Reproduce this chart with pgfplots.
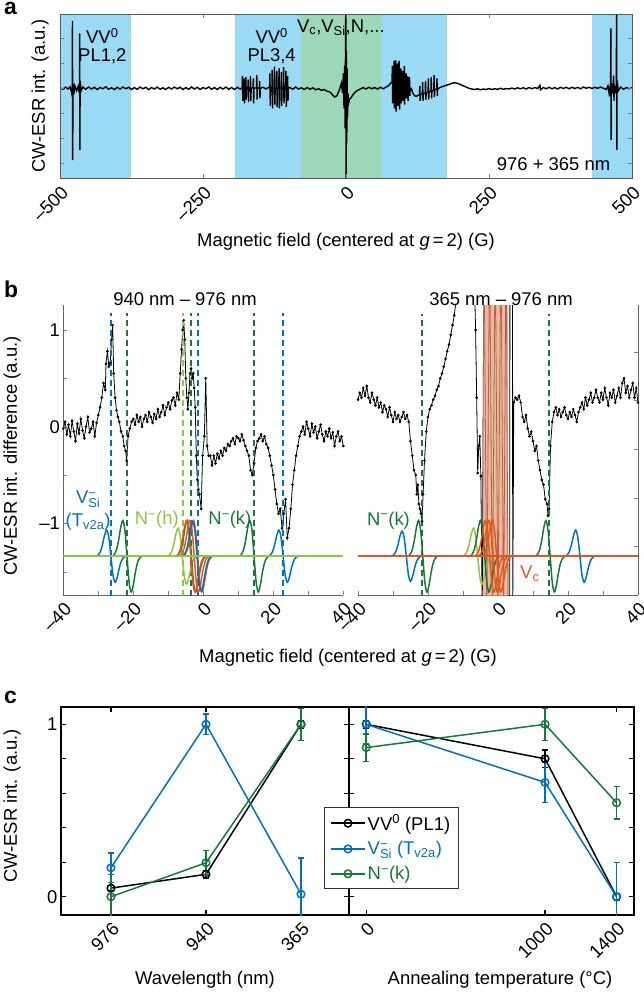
\documentclass[border=0pt]{standalone}
\usepackage{fontspec}
\setmainfont{Liberation Sans}
\setsansfont{Liberation Sans}
\usepackage{pgfplots}
\pgfplotsset{compat=1.18}
\usepackage{pgfplotstable}

\definecolor{mblue}{RGB}{0,114,189}
\definecolor{mgreen}{RGB}{22,120,60}
\definecolor{lgreen}{RGB}{141,198,63}
\definecolor{morange}{RGB}{226,86,28}
\definecolor{shblue}{RGB}{154,218,244}
\definecolor{shgreen}{RGB}{156,216,184}
\definecolor{shorange}{RGB}{238,150,112}

\newcommand{\fs}{\fontsize{18.5}{22}\selectfont}
\newcommand{\Vsi}{V\rlap{\textsuperscript{−}}\textsubscript{Si}}

% derivative-of-Gaussian line shape used for the simulated spectra (peak = 1)
\pgfplotstableread{
dx g
-4.2 0
-3.6 0.055
-3.0 0.181
-2.4 0.446
-1.8 0.803
-1.2 1
-0.6 0.727
0 0
0.6 -0.727
1.2 -1
1.8 -0.803
2.4 -0.446
3.0 -0.181
3.6 -0.055
4.2 0
}\lshape

\pgfplotsset{
  base/.style={scale only axis, anchor=south west, font=\fs,
    tick label style={font=\fs}, tick align=inside,
    major tick length=4bp, minor tick length=4bp,
    xticklabel style={xshift=5bp, yshift=-11bp, rotate=45, anchor=east, inner sep=0pt}},
  dline/.style={line width=2bp, dash pattern=on 6bp off 4bp},
  ls/.style={line width=1.5bp, smooth},
  cser/.style={line width=1.5bp, mark=o, mark size=3.8bp,
    error bars/.cd, y dir=both, y explicit,
    error bar style={line width=1.5bp},
    error mark options={rotate=90, mark size=3bp, line width=1.5bp}},
}

\begin{document}
\begin{tikzpicture}[x=1bp,y=1bp,font=\fs]
\path[use as bounding box] (0,0) rectangle (644,-993);

% ---------------- panel a ----------------
\begin{axis}[base, at={(60bp,-178.3bp)}, width=572bp, height=164.3bp,
  xmin=-500, xmax=500, ymin=-3.6, ymax=2.97,
  xtick={-500,-250,0,250,500}, xticklabels={–500,–250,0,250,500},
  ytick={-3,-2,-1,0,1,2}, yticklabels={}, tick pos=both,
  axis on top, axis line style={black!65, line width=1bp}]
\addplot[draw=none, fill=shblue] coordinates {(-500,-3.6)(-500,3)(-376,3)(-376,-3.6)} -- cycle;
\addplot[draw=none, fill=shblue] coordinates {(-194,-3.6)(-194,3)(-79,3)(-79,-3.6)} -- cycle;
\addplot[draw=none, fill=shgreen] coordinates {(-79,-3.6)(-79,3)(61,3)(61,-3.6)} -- cycle;
\addplot[draw=none, fill=shblue] coordinates {(61,-3.6)(61,3)(177,3)(177,-3.6)} -- cycle;
\addplot[draw=none, fill=shblue] coordinates {(430,-3.6)(430,3)(500,3)(500,-3.6)} -- cycle;
\addplot[black, line width=1.4bp] coordinates {
(-500,0.02)(-495,-0.04)(-490,0.05)(-486,-0.03)(-482,0.06)(-480,-0.15)
(-478.6,-0.3)(-478.2,2.7)(-477.8,-2.87)(-477.3,0.2)(-476,-0.25)(-474,0.1)(-471,-0.1)(-468,0.08)
(-466,-0.2)(-465.6,2.2)(-465.2,-2.47)(-464.8,0.3)(-463,-0.1)(-460,0.05)
(-455,-0.04)(-450,0.05)(-445,-0.03)(-440,0.04)(-435,-0.05)(-430,0.03)(-425,-0.02)(-420,0.06)
(-415,-0.04)(-410,0.02)(-405,-0.05)(-400,0.04)(-395,-0.03)(-390,0.05)(-385,-0.02)(-380,0.04)
(-375,-0.05)(-370,0.03)(-365,-0.04)(-360,0.05)(-355,-0.02)(-350,0.04)(-345,-0.05)(-340,0.03)
(-335,-0.03)(-330,0.05)(-325,-0.04)(-320,0.02)(-315,-0.05)(-310,0.04)(-305,-0.03)(-300,0.05)
(-295,-0.02)(-290,0.04)(-285,-0.05)(-280,0.03)(-275,-0.04)(-270,0.05)(-265,-0.03)(-260,0.04)
(-255,-0.05)(-250,0.03)(-245,-0.02)(-240,0.05)(-235,-0.04)(-230,0.03)(-225,-0.05)(-220,0.04)
(-215,-0.03)(-210,0.05)(-205,-0.04)(-200,0.03)(-195,-0.05)(-190,0.04)(-185,-0.03)
(-181.5,0.02)(-181,0.5)(-180.4,-0.5)(-179.8,-0.02)
(-178.5,0.02)(-178,0.4)(-177.4,-0.6)(-176.8,0.0)
(-175.5,0.02)(-175,0.45)(-174.4,-0.45)(-173.8,0.0)
(-171.5,0.02)(-171,0.35)(-170.4,-0.55)(-169.8,0.0)
(-167.5,0.02)(-167,0.5)(-166.4,-0.5)(-165.8,0.0)
(-162.5,0.02)(-162,0.4)(-161.4,-0.6)(-160.8,0.0)
(-156.5,0.02)(-156,0.53)(-155.4,-0.45)(-154.8,0.0)
(-151.5,0.02)(-151,0.3)(-150.4,-0.4)(-149.8,0.0)
(-145,0.04)(-140,-0.03)(-136,0.03)
(-133.5,0.02)(-133,0.6)(-132.4,-0.7)(-131.8,0.0)
(-129.5,0.02)(-129,0.75)(-128.4,-0.8)(-127.8,0.0)
(-125.5,0.02)(-125,0.87)(-124.4,-0.65)(-123.8,0.0)
(-121.5,0.02)(-121,0.7)(-120.4,-0.75)(-119.8,0.0)
(-117.5,0.02)(-117,0.8)(-116.4,-0.8)(-115.8,0.0)
(-113.5,0.02)(-113,0.65)(-112.4,-0.7)(-111.8,0.0)
(-109.5,0.02)(-109,0.85)(-108.4,-0.6)(-107.8,0.0)
(-105.5,0.02)(-105,0.7)(-104.4,-0.75)(-103.8,0.0)
(-102.5,0.02)(-102,0.5)(-101.4,-0.5)(-100.8,0.0)
(-98,0.03)(-93,-0.04)(-88,0.05)(-83,-0.03)(-78,0.02)(-73,-0.05)(-68,0.03)(-63,-0.04)(-58,0.02)
(-53,-0.06)(-48,-0.02)(-43,-0.08)(-38,-0.05)(-33,-0.12)(-28,-0.15)(-24,-0.25)(-20,-0.35)
(-16,-0.3)(-13,-0.15)(-10,0.05)(-8,0.2)(-6,-0.2)(-4.5,0.6)(-3.5,-0.8)(-2.5,0.9)(-1.5,-1.6)
(-0.8,2.0)(-0.3,3.5)(0.2,-3.8)(0.7,1.5)(1.3,-2.2)(1.9,0.8)(2.6,-1.2)(3.4,-0.2)(4.5,-0.6)
(6,-0.45)(8,-0.4)(11,-0.3)(14,-0.2)(18,-0.12)(22,-0.06)(26,-0.02)(30,0.03)(35,-0.03)(40,0.04)
(45,-0.02)(50,0.03)(55,-0.03)(60,0.04)(65,-0.02)(70,0.05)(74,0.1)(78,0.2)
(80.5,0.25)(81,0.9)(81.6,-0.6)(82.2,0.25)
(83.5,0.25)(84,1.1)(84.6,-0.8)(85.2,0.25)
(86.5,0.3)(87,1.13)(87.6,-0.93)(88.2,0.3)
(89.5,0.3)(90,1.0)(90.6,-0.7)(91.2,0.3)
(92.5,0.3)(93,1.1)(93.6,-0.85)(94.2,0.3)
(95.5,0.28)(96,0.8)(96.6,-0.6)(97.2,0.25)
(98.5,0.25)(99,0.7)(99.6,-0.5)(100.2,0.22)
(101.5,0.2)(102,0.9)(102.6,-0.65)(103.2,0.18)
(104.5,0.15)(105,0.6)(105.6,-0.4)(106.2,0.12)
(107.5,0.1)(108,0.5)(108.6,-0.5)(109.2,0.05)
(110.5,0.03)(111,0.45)(111.6,-0.3)(112.2,0.0)
(114,0.0)(117,-0.2)(120,-0.3)(123,-0.32)(126,-0.28)
(128.5,-0.27)(129,0.1)(129.6,-0.5)(130.2,-0.25)
(133.5,-0.23)(134,0.25)(134.6,-0.5)(135.2,-0.22)
(138.5,-0.2)(139,0.3)(139.6,-0.45)(140.2,-0.18)
(143.5,-0.16)(144,0.4)(144.6,-0.45)(145.2,-0.14)
(148.5,-0.12)(149,0.45)(149.6,-0.4)(150.2,-0.1)
(153.5,-0.08)(154,0.53)(154.6,-0.35)(155.2,-0.06)
(158.5,-0.05)(159,0.4)(159.6,-0.3)(160.2,-0.03)
(162,0.0)(166,0.05)(170,0.08)(175,0.12)(180,0.15)(185,0.2)(190,0.22)(195,0.2)(200,0.15)
(205,0.1)(210,0.05)(215,0.0)(220,-0.03)(225,-0.05)(230,-0.02)(235,-0.06)(240,-0.03)
(245,-0.05)(250,-0.01)(255,-0.05)(260,-0.02)(265,-0.04)(270,0.0)(275,-0.04)(280,-0.01)
(285,-0.03)(290,0.01)(295,-0.03)(300,0.02)(305,-0.02)(310,0.02)(315,-0.03)(320,0.03)
(325,-0.02)(330,0.03)(335,-0.01)(339,0.12)(340,-0.06)(345,0.03)(350,-0.02)(355,0.04)
(360,-0.02)(365,0.03)(370,-0.03)(375,0.04)(380,-0.01)(385,0.04)(390,-0.02)(395,0.04)
(400,-0.01)(405,0.04)(410,-0.02)(415,0.05)(420,0.0)(425,0.04)(430,-0.01)(435,0.04)
(440,0.0)(445,0.05)(450,0.0)(455,-0.05)(458,0.1)(460,-0.2)(462,0.1)
(462.6,-0.3)(463,2.4)(463.4,-2.07)(463.9,0.2)(466,-0.2)(468,0.5)(468.5,-0.5)(469,0.1)
(471,-0.1)(472.6,0.1)(473,3.2)(473.4,-2.47)(473.9,0.3)(476,-0.1)(480,0.05)(485,-0.04)
(490,0.03)(495,-0.02)(500,0.02)};
\node[anchor=base] at (axis cs:-426,1.8) {VV\textsuperscript{0}};
\node[anchor=base] at (axis cs:-426,1.08) {PL1,2};
\node[anchor=base] at (axis cs:-130,1.8) {VV\textsuperscript{0}};
\node[anchor=base] at (axis cs:-130,1.08) {PL3,4};
\node[anchor=base] at (axis cs:-9,2.25) {V\textsubscript{c},V\textsubscript{Si},N,...};
\node[anchor=base east] at (axis cs:468,-3.27) {976 + 365 nm};
\end{axis}
\node[anchor=base west, font=\fontsize{23}{27}\selectfont\bfseries] at (0.5,-14) {a};
\node[rotate=90] at (40,-96) {CW-ESR int. (a.u.)};
\node[anchor=base] at (346,-246.5) {Magnetic field (centered at \textit{g}\,=\,2) (G)};

% ---------------- panel b, left ----------------
\begin{axis}[base, at={(63.3bp,-595bp)}, width=280bp, height=290bp,
  xmin=-40, xmax=40, ymin=-1.741, ymax=1.258,
  axis x line*=bottom, axis y line*=left,
  axis line style={black!60, line width=1bp},
  xtick={-40,-20,0,20,40}, xticklabels={–40,–20,0,20,40}, minor xtick={-30,-10,10,30},
  ytick={-1,0,1}, yticklabels={–1,0,1}, minor ytick={-1.5,-0.5,0.5}]
\addplot[black, line width=0.8bp, mark=*, mark size=0.9bp] coordinates {
(-40,-0.02)(-39.5,0.05)(-39,-0.08)(-38.5,0.02)(-38,-0.1)(-37.5,0.06)(-37,-0.05)(-36.5,-0.15)
(-36,0.03)(-35.5,-0.07)(-35,0.08)(-34.5,-0.04)(-34,-0.12)(-33.5,0.0)(-33,0.1)(-32.5,-0.06)
(-32,-0.02)(-31.5,0.05)(-31,-0.1)(-30.5,0.04)(-30,0.12)(-29.5,0.2)(-29,0.3)(-28.5,0.45)
(-28,0.38)(-27.8,0.65)(-27.4,0.78)(-27,0.62)(-26.6,0.66)(-26.2,0.9)(-25.9,1.05)(-25.6,0.55)
(-25.2,0.3)(-24.8,0.17)(-24.4,0.1)(-24,0.05)(-23.5,-0.05)(-23,-0.1)(-22.6,-0.2)(-22.2,-0.25)
(-21.9,-0.35)(-21.5,-0.1)(-21,-0.02)(-20.5,0.05)(-20,0.08)(-19.5,0.02)(-19,0.12)(-18.5,0.05)
(-18,0.1)(-17.5,0.0)(-17,0.08)(-16.5,0.12)(-16,0.05)(-15.5,0.15)(-15,0.1)(-14.5,0.04)
(-14,0.13)(-13.5,0.08)(-13,0.18)(-12.5,0.1)(-12,0.15)(-11.5,0.22)(-11,0.12)(-10.5,0.2)
(-10,0.25)(-9.5,0.18)(-9,0.27)(-8.5,0.3)(-8,0.22)(-7.5,0.35)(-7,0.28)(-6.6,0.55)(-6.2,0.8)
(-5.9,1.0)(-5.6,1.1)(-5.3,0.9)(-5,0.5)(-4.7,0.3)(-4.4,0.18)(-4.1,0.35)(-3.8,0.55)(-3.5,0.6)
(-3.2,0.5)(-2.9,0.55)(-2.6,0.4)(-2.3,0.2)(-2.0,-0.3)(-1.7,-0.55)(-1.4,-0.65)(-1.1,-0.7)
(-0.6,-0.85)(-0.2,-0.3)(0.3,-0.1)(0.7,0.5)(1.1,-0.2)(1.5,-0.3)(2,-0.3)(2.5,-0.4)(3,-0.3)
(3.5,-0.38)(4,-0.28)(4.5,-0.33)(5,-0.25)(5.5,-0.3)(6,-0.22)(6.5,-0.25)(7,-0.18)(7.5,-0.2)
(8,-0.15)(8.5,-0.12)(9,-0.18)(9.5,-0.1)(10,-0.12)(10.5,-0.15)(11,-0.08)(11.5,-0.14)
(12,-0.2)(12.5,-0.25)(13,-0.3)(13.5,-0.45)(14,-0.5)(14.5,-0.38)(15,-0.22)(15.5,-0.15)
(16,-0.12)(16.5,-0.08)(17,-0.15)(17.5,-0.1)(18,-0.18)(18.5,-0.22)(19,-0.3)(19.5,-0.4)
(20,-0.5)(20.5,-0.65)(21,-0.8)(21.5,-0.9)(22,-0.85)(22.5,-1.05)(23,-0.9)(23.5,-0.75)
(24,-1.15)(24.5,-1.05)(25,-0.85)(25.5,-0.6)(26,-0.45)(26.5,-0.3)(27,-0.2)(27.5,-0.1)
(28,-0.05)(28.5,0.0)(29,-0.08)(29.5,0.05)(30,-0.02)(30.5,-0.1)(31,0.03)(31.5,-0.06)
(32,0.0)(32.5,-0.12)(33,-0.05)(33.5,0.02)(34,-0.08)(34.5,-0.15)(35,-0.05)(35.5,-0.1)
(36,-0.02)(36.5,-0.12)(37,-0.06)(37.5,-0.2)(38,-0.1)(38.5,-0.05)(39,-0.15)(39.5,-0.1)(40,-0.2)};
\addplot[mblue, dline] coordinates {(-26.4,-1.75)(-26.4,1.18)};
\addplot[mblue, dline] coordinates {(-1.4,-1.75)(-1.4,1.18)};
\addplot[mblue, dline] coordinates {(22.9,-1.75)(22.9,1.18)};
\addplot[mgreen, dline] coordinates {(-21.7,-1.75)(-21.7,1.18)};
\addplot[mgreen, dline] coordinates {(-3.4,-1.75)(-3.4,1.18)};
\addplot[mgreen, dline] coordinates {(14.6,-1.75)(14.6,1.18)};
\addplot[lgreen, dline] coordinates {(-5.9,-1.75)(-5.9,1.18)};
\addplot[mblue, ls] table[x expr=\thisrow{dx}-26.4, y expr=-1.34+0.27*\thisrow{g}] {\lshape};
\addplot[mgreen, ls] table[x expr=\thisrow{dx}-21.8, y expr=-1.34+0.37*\thisrow{g}] {\lshape};
\addplot[lgreen, ls] table[x expr=\thisrow{dx}-6.0, y expr=-1.34+0.29*\thisrow{g}] {\lshape};
\addplot[mgreen, ls] table[x expr=\thisrow{dx}-3.4, y expr=-1.34+0.37*\thisrow{g}] {\lshape};
\addplot[morange, ls] table[x expr=\thisrow{dx}-3.6, y expr=-1.34+0.37*\thisrow{g}] {\lshape};
\addplot[morange, ls] table[x expr=\thisrow{dx}-2.6, y expr=-1.34+0.37*\thisrow{g}] {\lshape};
\addplot[morange, ls] table[x expr=\thisrow{dx}-1.6, y expr=-1.34+0.37*\thisrow{g}] {\lshape};
\addplot[mblue, ls] table[x expr=\thisrow{dx}-1.8, y expr=-1.34+0.36*\thisrow{g}] {\lshape};
\addplot[mgreen, ls] table[x expr=\thisrow{dx}+14.5, y expr=-1.34+0.37*\thisrow{g}] {\lshape};
\addplot[mblue, ls] table[x expr=\thisrow{dx}+22.8, y expr=-1.34+0.27*\thisrow{g}] {\lshape};
\addplot[lgreen, line width=1.5bp] coordinates {(-40,-1.34)(40,-1.34)};
\node[mblue] at (axis cs:-32.9,-0.75) {\Vsi};
\node[mblue] at (axis cs:-32.9,-0.98) {(T\textsubscript{v2a})};
\node[lgreen] at (axis cs:-13.3,-0.96) {N\textsuperscript{−}(h)};
\node[mgreen] at (axis cs:7.6,-0.96) {N\textsuperscript{−}(k)};
\end{axis}

% ---------------- panel b, right ----------------
\begin{axis}[base, at={(358bp,-595bp)}, width=280bp, height=290bp,
  xmin=-40, xmax=40, ymin=-1.741, ymax=1.258,
  axis x line*=bottom, axis y line*=right,
  axis line style={black!60, line width=1bp},
  xtick={-40,-20,0,20,40}, xticklabels={–40,–20,0,20,40}, minor xtick={-30,-10,10,30},
  ytick={-1.24,-0.74,-0.23,0.27,0.77}, yticklabels={}]
\addplot[black, line width=0.8bp, mark=*, mark size=0.9bp] coordinates {
(-40,0.28)(-39.5,0.35)(-39,0.3)(-38.5,0.4)(-38,0.32)(-37.5,0.42)(-37,0.3)(-36.5,0.25)
(-36,0.35)(-35.5,0.28)(-35,0.22)(-34.5,0.3)(-34,0.2)(-33.5,0.25)(-33,0.15)(-32.5,0.22)
(-32,0.18)(-31.5,0.1)(-31,0.2)(-30.5,0.12)(-30,0.05)(-29.5,0.15)(-29,0.08)(-28.5,0.12)
(-28,0.05)(-27.5,0.1)(-27,0.15)(-26.5,0.08)(-26,0.12)(-25.5,0.05)(-25,-0.15)(-24.5,-0.3)
(-24,-0.45)(-23.5,-0.5)(-23.2,-0.7)(-22.9,-0.6)(-22.6,-0.8)(-22.3,-0.85)(-22,-0.9)
(-21.7,-0.98)(-21.4,-0.7)(-21,-0.35)(-20.5,-0.05)(-20,0.1)(-19.5,0.18)(-19,0.22)(-18.5,0.28)
(-18,0.32)(-17.5,0.38)(-17,0.42)(-16.5,0.5)(-16,0.55)(-15.5,0.62)(-15,0.7)(-14.5,0.78)
(-14,0.85)(-13.5,0.95)(-13,1.05)(-12.5,1.15)(-12,1.3)(-10,1.8)(-8,2.2)(-6.8,1.6)(-6.4,1.0)
(-6.1,0.3)(-5.8,-0.48)(-5.5,-0.2)(-5.2,-0.1)(-4.9,-0.51)(-4.5,-1.9)(-4.0,2)(-3.2,-2)
(-2.4,2)(-1.6,-2)(-0.8,2)(0.0,-2)(0.8,2)(1.6,-2)(2.3,2)(2.9,-2)(3.35,-2)(3.4,2)(4.15,2)
(4.2,-2)(4.5,0.25)(5,0.3)(5.5,0.28)(6,0.32)
(6.5,0.25)(7,0.1)(7.5,0.05)(8,0.12)(8.5,-0.02)(9,-0.1)(9.5,-0.05)(10,-0.15)(10.5,-0.25)
(11,-0.2)(11.5,-0.35)(12,-0.45)(12.5,-0.55)(13,-0.6)(13.5,-0.75)(14,-0.8)(14.3,-0.92)
(14.6,-0.85)(15,-0.2)(15.5,0.05)(16,0.15)(16.5,0.2)(17,0.12)(17.5,0.18)(18,0.1)(18.5,0.15)
(19,0.2)(19.5,0.12)(20,0.08)(20.5,0.15)(21,0.1)(21.5,0.18)(22,0.12)(22.5,0.05)(23,0.15)
(23.5,0.2)(24,0.25)(24.5,0.18)(25,0.3)(25.5,0.22)(26,0.28)(26.5,0.35)(27,0.25)(27.5,0.3)
(28,0.38)(28.5,0.3)(29,0.25)(29.5,0.35)(30,0.28)(30.5,0.4)(31,0.3)(31.5,0.22)(32,0.35)
(32.5,0.3)(33,0.38)(33.5,0.25)(34,0.32)(34.5,0.4)(35,0.3)(35.5,0.45)(36,0.5)(36.5,0.35)
(37,0.42)(37.5,0.3)(38,0.38)(38.5,0.45)(39,0.3)(39.5,0.4)(40,0.25)};
\addplot[draw=none, fill=shorange, fill opacity=0.7] coordinates {(-4.25,-1.75)(-4.25,1.27)(2.9,1.27)(2.9,-1.75)} -- cycle;
\addplot[mgreen, dline] coordinates {(-21.7,-1.75)(-21.7,1.17)};
\addplot[mgreen, dline] coordinates {(14.7,-1.75)(14.7,1.17)};
\addplot[mblue, ls] table[x expr=\thisrow{dx}-26.2, y expr=-1.34+0.26*\thisrow{g}] {\lshape};
\addplot[mgreen, ls] table[x expr=\thisrow{dx}-21.5, y expr=-1.34+0.37*\thisrow{g}] {\lshape};
\addplot[lgreen, ls] table[x expr=\thisrow{dx}-5.8, y expr=-1.34+0.29*\thisrow{g}] {\lshape};
\addplot[mgreen, ls] table[x expr=\thisrow{dx}-3.8, y expr=-1.34+0.37*\thisrow{g}] {\lshape};
\addplot[morange, ls] table[x expr=\thisrow{dx}-2.4, y expr=-1.34+0.37*\thisrow{g}] {\lshape};
\addplot[morange, ls] table[x expr=\thisrow{dx}-1.4, y expr=-1.34+0.37*\thisrow{g}] {\lshape};
\addplot[morange, ls] table[x expr=\thisrow{dx}-0.4, y expr=-1.34+0.37*\thisrow{g}] {\lshape};
\addplot[mgreen, ls] table[x expr=\thisrow{dx}+14.9, y expr=-1.34+0.37*\thisrow{g}] {\lshape};
\addplot[mblue, ls] table[x expr=\thisrow{dx}+23.4, y expr=-1.34+0.27*\thisrow{g}] {\lshape};
\addplot[morange, line width=1.5bp] coordinates {(-40,-1.34)(40,-1.34)};
\node[mgreen] at (axis cs:-31.3,-0.97) {N\textsuperscript{−}(k)};
\node[morange] at (axis cs:9.1,-1.52) {V\textsubscript{c}};
\end{axis}
\node[anchor=base west, font=\fontsize{23}{27}\selectfont\bfseries] at (0.5,-297) {b};
\node[anchor=base] at (185,-305) {940 nm – 976 nm};
\node[anchor=base] at (501,-305) {365 nm – 976 nm};
\node[rotate=90] at (12,-456) {CW-ESR int. difference (a.u.)};
\node[anchor=base] at (348,-662) {Magnetic field (centered at \textit{g}\,=\,2) (G)};

% ---------------- panel c, left ----------------
\begin{axis}[base, at={(61bp,-915bp)}, width=287.7bp, height=208.3bp,
  xmin=-0.526, xmax=2.502, ymin=-0.106, ymax=1.102,
  xtick={0,1,2}, xticklabels={976,940,365},
  ytick={0,1}, yticklabels={0,1}, minor ytick={0.2,0.4,0.6,0.8},
  tick pos=both, major tick length=5bp, minor tick length=5bp,
  axis line style={black, line width=2.2bp}, every tick/.style={black, line width=1.2bp}]
\addplot[black, cser] coordinates {(0,0.05) +- (0,0.015) (1,0.13) +- (0,0.02) (2,1.0) +- (0,0.02)};
\addplot[mblue, cser] coordinates {(0,0.168) +- (0,0.085) (1,1.0) +- (0,0.06) (2,0.015) +- (0,0.21)};
\addplot[mgreen, cser] coordinates {(0,0.0) +- (0,0.13) (1,0.197) +- (0,0.07) (2,1.0) +- (0,0.093)};
\end{axis}

% ---------------- panel c, right ----------------
\begin{axis}[base, at={(348.7bp,-915bp)}, width=285.6bp, height=208.3bp,
  xmin=-98, xmax=1499, ymin=-0.106, ymax=1.102,
  xtick={0,1000,1400}, xticklabels={0,1000,1400},
  ytick={0,0.2,0.4,0.6,0.8,1}, yticklabels={},
  tick pos=both, major tick length=5bp,
  axis line style={black, line width=2.2bp}, every tick/.style={black, line width=1.2bp},
  legend style={at={(-0.0875,0.517)}, anchor=north west, draw=black!80, line width=1bp,
    fill=white, font=\fs, cells={anchor=west}, row sep=6bp, inner xsep=6bp, inner ysep=5bp},
  legend image code/.code={\draw[#1, mark repeat=2, mark phase=2] plot coordinates {(0bp,0bp)(17bp,0bp)(34bp,0bp)};}]
\addplot[black, cser] coordinates {(0,1.0) +- (0,0.02) (1000,0.80) +- (0,0.05) (1400,0.0) +- (0,0.02)};
\addplot[mblue, cser] coordinates {(0,1.0) +- (0,0.11) (1000,0.663) +- (0,0.116) (1400,0.0) +- (0,0.2)};
\addplot[mgreen, cser] coordinates {(0,0.865) +- (0,0.08) (1000,1.0) +- (0,0.093) (1400,0.545) +- (0,0.094)};
\legend{VV\textsuperscript{0} (PL1), \textcolor{mblue}{\Vsi\ (T\textsubscript{v2a})}, \textcolor{mgreen}{N\textsuperscript{−}(k)}}
\end{axis}
\node[anchor=base west, font=\fontsize{23}{27}\selectfont\bfseries] at (0.5,-703) {c};
\node[rotate=90] at (12,-806) {CW-ESR int. (a.u.)};
\node[anchor=base] at (205,-984) {Wavelength (nm)};
\node[anchor=base] at (500,-984) {Annealing temperature (°C)};
\end{tikzpicture}
\end{document}
